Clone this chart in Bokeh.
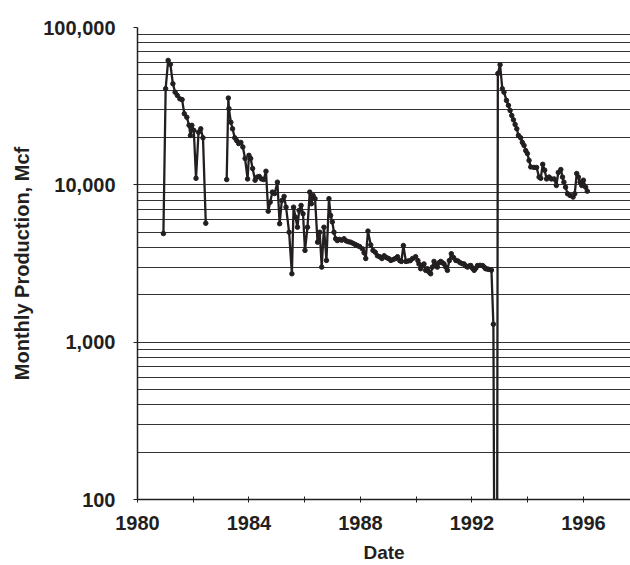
import math
from bokeh.plotting import figure
from bokeh.models import Range1d, FixedTicker, NumeralTickFormatter
from bokeh.embed import file_html
from bokeh.resources import INLINE

# Date (decimal year) and monthly production (Mcf); NaN = no report, 0 = shut in
years = [
    1980.93, 1981.01, 1981.10, 1981.18, 1981.27, 1981.35, 1981.43, 1981.52, 1981.60, 1981.68,
    1981.77, 1981.85, 1981.90, 1981.95, 1982.02, 1982.10, 1982.19, 1982.27, 1982.35, 1982.45,
    1982.80,
    1983.20, 1983.26, 1983.28, 1983.35, 1983.41, 1983.49, 1983.56, 1983.63, 1983.71, 1983.78,
    1983.86, 1983.95, 1984.00, 1984.06, 1984.13, 1984.22, 1984.30, 1984.37, 1984.45, 1984.53,
    1984.61, 1984.69, 1984.76, 1984.84, 1984.92, 1985.02, 1985.10, 1985.18, 1985.26, 1985.33,
    1985.44, 1985.54, 1985.60, 1985.67, 1985.74, 1985.80, 1985.87, 1985.94, 1986.01, 1986.10,
    1986.18, 1986.24, 1986.30, 1986.37, 1986.46, 1986.54, 1986.61, 1986.69, 1986.78, 1986.87,
    1986.93, 1986.99, 1987.05, 1987.11, 1987.17, 1987.25, 1987.33, 1987.41, 1987.49, 1987.57,
    1987.65, 1987.73, 1987.81, 1987.89, 1987.97, 1988.07, 1988.13, 1988.19, 1988.27, 1988.37,
    1988.45, 1988.53, 1988.61, 1988.69, 1988.77, 1988.85, 1988.93, 1989.01, 1989.09, 1989.17,
    1989.25, 1989.33, 1989.41, 1989.47, 1989.54, 1989.63, 1989.71, 1989.79, 1989.87, 1989.98,
    1990.06, 1990.10, 1990.16, 1990.22, 1990.28, 1990.34, 1990.40, 1990.46, 1990.52, 1990.58,
    1990.64, 1990.70, 1990.76, 1990.82, 1990.88, 1990.94, 1991.00, 1991.06, 1991.12, 1991.19,
    1991.26, 1991.34, 1991.42, 1991.50, 1991.58, 1991.66, 1991.72, 1991.78, 1991.84, 1991.90,
    1991.96, 1992.02, 1992.08, 1992.14, 1992.20, 1992.29, 1992.38, 1992.44, 1992.49, 1992.55,
    1992.61, 1992.70, 1992.77, 1992.84, 1992.89, 1992.93, 1993.01, 1993.09, 1993.15, 1993.24,
    1993.31, 1993.37, 1993.43, 1993.49, 1993.55, 1993.61, 1993.67, 1993.75, 1993.81, 1993.87,
    1993.93, 1993.99, 1994.05, 1994.11, 1994.23, 1994.32, 1994.41, 1994.47, 1994.54, 1994.61,
    1994.68, 1994.77, 1994.85, 1994.95, 1995.03, 1995.10, 1995.19, 1995.25, 1995.30, 1995.36,
    1995.43, 1995.52, 1995.63, 1995.69, 1995.76, 1995.82, 1995.88, 1995.94, 1996.00, 1996.08,
    1996.14,
]
mcf = [
    4900, 40800, 61800, 58300, 43900, 38800, 37000, 35200, 34800, 28300,
    26900, 23900, 20600, 23900, 22200, 11000, 21600, 22700, 19900, 5700,
    float("nan"),
    10800, 35600, 30500, 25000, 22700, 19900, 19100, 18300, 18600, 17400,
    14700, 10900, 15400, 14700, 12700, 10700, 11200, 11300, 10900, 10800,
    12200, 6800, 7760, 8990, 8800, 10400, 5660, 7960, 8440, 7210,
    5000, 2720, 7210, 6230, 5380, 6880, 7400, 6550, 3830, 5380,
    8990, 7580, 8570, 8170, 4320, 5000, 3000, 5380, 3310, 8170,
    6390, 5810, 5000, 4540, 4420, 4500, 4450, 4540, 4400, 4350,
    4320, 4250, 4180, 4110, 4050, 3920, 3700, 3400, 5080, 4150,
    3830, 3730, 3540, 3490, 3400, 3540, 3450, 3400, 3310, 3350,
    3400, 3490, 3300, 3260, 4110, 3260, 3280, 3300, 3400, 3490,
    3300, 3140, 2930, 3070, 3140, 2860, 2930, 2790, 2720, 3000,
    3260, 3100, 3000, 3200, 3260, 3200, 3140, 3000, 2860, 3300,
    3650, 3450, 3310, 3280, 3200, 3150, 3140, 3050, 3000, 3050,
    3070, 2950, 2860, 2950, 3070, 3080, 3070, 3000, 2930, 2920,
    2900, 2870, 1300, 0, 0, 51000, 58000, 40800, 38800, 34400,
    32000, 29700, 27600, 25900, 24200, 22700, 20600, 19900, 18600, 17800,
    16500, 15800, 14300, 13000, 12900, 12900, 11200, 11000, 13500, 12400,
    10900, 11200, 10900, 10900, 9910, 12000, 12500, 11200, 10400, 9670,
    8780, 8570, 8360, 8780, 11800, 11200, 10400, 9910, 10700, 9670,
    9120,
]

x_major = [1980, 1984, 1988, 1992, 1996]
x_minor = [1982, 1986, 1990, 1994, 1998]
y_major = [100, 1000, 10000, 100000]
y_minor = [m * 10 ** k for k in (2, 3, 4) for m in range(2, 10)]

x_title = "Date"
y_title = "Monthly Production, Mcf"

# zero months cannot sit on a log axis: drop them below the visible range
plot_mcf = [v if (math.isnan(v) or v > 0) else 1.0 for v in mcf]

INK = "#231f20"
FONT = "Liberation Sans"

W, H = 630, 565
LEFT, TOP, BOTTOM = 137, 27, 66

p = figure(width=W, height=H, y_axis_type="log",
           x_range=Range1d(1980, 1997.69), y_range=Range1d(100, 100000),
           output_backend="svg", toolbar_location=None,
           min_border_left=LEFT, min_border_right=0, min_border_top=TOP,
           min_border_bottom=BOTTOM)
p.outline_line_color = None
p.background_fill_color = "white"
p.border_fill_color = "white"

p.xgrid.visible = False
p.ygrid.grid_line_color = "#333333"
p.ygrid.grid_line_width = 1.1
p.ygrid.minor_grid_line_color = "#333333"
p.ygrid.minor_grid_line_width = 1.1

p.xaxis.ticker = FixedTicker(ticks=x_major, minor_ticks=x_minor)
p.yaxis.ticker = FixedTicker(ticks=y_major, minor_ticks=y_minor)
p.yaxis.formatter = NumeralTickFormatter(format="0,0")

for ax in (p.xaxis, p.yaxis):
    ax.axis_line_color = INK
    ax.axis_line_width = 1.5
    ax.major_tick_line_color = INK
    ax.minor_tick_line_color = INK
    ax.major_label_text_font = FONT
    ax.major_label_text_font_style = "bold"
    ax.major_label_text_color = INK
    ax.axis_label_text_font = FONT
    ax.axis_label_text_font_style = "bold"
    ax.axis_label_text_color = INK

p.xaxis.major_tick_in = 3
p.xaxis.major_tick_out = 3
p.xaxis.minor_tick_in = 3
p.xaxis.minor_tick_out = 3
p.xaxis.major_label_text_font_size = "20px"
p.xaxis.major_label_standoff = 13
p.xaxis.axis_label = x_title
p.xaxis.axis_label_text_font_size = "19px"
p.xaxis.axis_label_standoff = 9

p.yaxis.major_tick_in = 0
p.yaxis.major_tick_out = 4
p.yaxis.minor_tick_in = 0
p.yaxis.minor_tick_out = 0
p.yaxis.major_label_text_font_size = "20px"
p.yaxis.major_label_standoff = 18
p.yaxis.axis_label = y_title
p.yaxis.axis_label_text_font_size = "20px"
p.yaxis.axis_label_standoff = 7

p.line(years, plot_mcf, line_color=INK, line_width=2.3)
p.scatter(years, plot_mcf, size=4.5, fill_color=INK, line_color=INK)

open("out.html", "w").write(file_html(p, INLINE))
